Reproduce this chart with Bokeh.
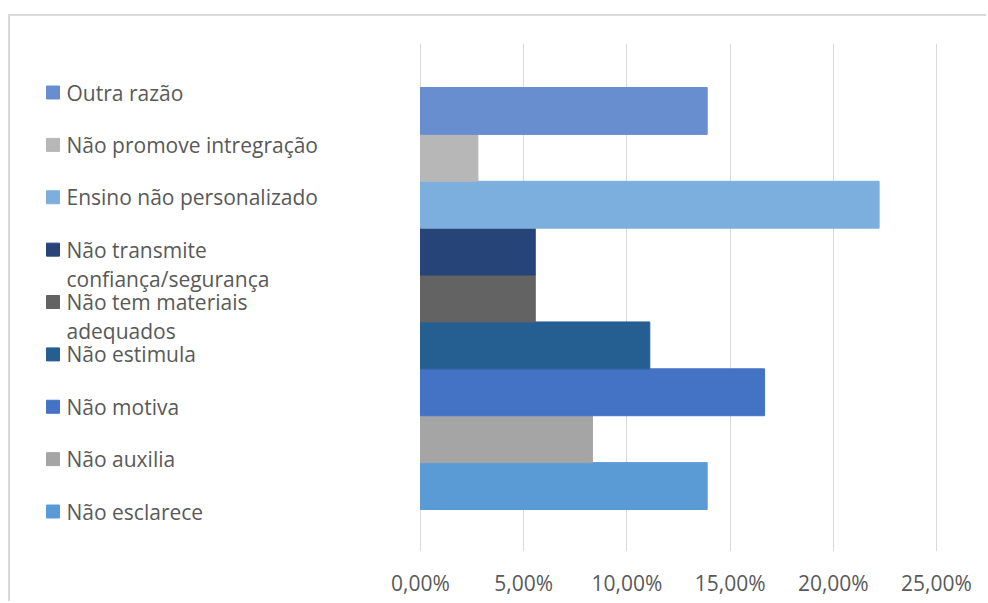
from bokeh.plotting import figure
from bokeh.models import FixedTicker, ColumnDataSource, Range1d
from bokeh.core.properties import value
from bokeh.embed import file_html
from bokeh.resources import INLINE

# ---- data (bottom to top, as drawn) ----
categories = ["Não esclarece", "Não auxilia", "Não motiva", "Não estimula",
              "Não tem materiais adequados", "Não transmite confiança/segurança",
              "Ensino não personalizado", "Não promove intregração", "Outra razão"]
legend_text = ["Não esclarece", "Não auxilia", "Não motiva", "Não estimula",
               "Não tem materiais\nadequados", "Não transmite\nconfiança/segurança",
               "Ensino não personalizado", "Não promove intregração", "Outra razão"]
percent = [13.89, 8.33, 16.67, 11.11, 5.56, 5.56, 22.22, 2.78, 13.89]
colors = ["#5B9BD5", "#A5A5A5", "#4472C4", "#255E91", "#636363",
          "#264478", "#7CAFDD", "#B7B7B7", "#698ED0"]
tick_values = [0, 5, 10, 15, 20, 25]
tick_labels = ["0,00%", "5,00%", "10,00%", "15,00%", "20,00%", "25,00%"]

# ---- layout (page pixels) ----
CANVAS_X0, CANVAS_Y0 = 10, 16
W, H = 978, 587
FRAME_TOP, FRAME_BOTTOM = 43, 551
X0_PX, X25_PX = 420, 936
BAR_TOP, BAR_BOTTOM = 87, 509
LEG_TOP, LEG_STEP, LEG_LINE = 92, 52.375, 29
FONT = "Open Sans"
n = len(categories)

pxu = (X25_PX - X0_PX) / 25.0
x_start = (CANVAS_X0 - X0_PX) / pxu
x_end = 25 + (CANVAS_X0 + W - X25_PX) / pxu
bar_px = (BAR_BOTTOM - BAR_TOP) / n
y_end = n + (BAR_TOP - FRAME_TOP) / bar_px
y_start = -(FRAME_BOTTOM - BAR_BOTTOM) / bar_px

def px_to_x(px):
    return (px - X0_PX) / pxu

def py_to_y(py):
    return y_end - (py - FRAME_TOP) / bar_px

p = figure(width=W, height=H, output_backend="svg", toolbar_location=None,
           x_range=Range1d(x_start, x_end), y_range=Range1d(y_start, y_end),
           y_axis_location=None, min_border_left=0, min_border_right=0,
           min_border_top=FRAME_TOP - CANVAS_Y0,
           min_border_bottom=CANVAS_Y0 + H - FRAME_BOTTOM)
p.styles = {"border-top": "2px solid #D9D9D9", "border-left": "2px solid #D9D9D9",
            "position": "relative", "top": "14px", "left": "8px"}
p.outline_line_color = None
p.background_fill_color = "white"
p.border_fill_color = "white"

src = ColumnDataSource(dict(cat=categories, val=percent, color=colors,
                            y=[i + 0.5 for i in range(n)]))
p.hbar(y="y", right="val", left=0, height=1.0, color="color", source=src)

# legend (top item first in screen order)
first_lines, second_lines, leg_y, leg_y2 = [], [], [], []
for i, t in enumerate(legend_text):
    k = n - 1 - i  # position from top
    py = LEG_TOP + LEG_STEP * k
    parts = t.split("\n")
    first_lines.append(parts[0])
    second_lines.append(parts[1] if len(parts) > 1 else "")
    leg_y.append(py_to_y(py))
    leg_y2.append(py_to_y(py + LEG_LINE))
lsrc = ColumnDataSource(dict(y=leg_y, y2=leg_y2, t1=first_lines, t2=second_lines,
                             color=colors))
p.rect(x=px_to_x(52.5), y="y", width=13, height=13, width_units="screen",
       height_units="screen", color="color", source=lsrc)
for col, ycol in (("t1", "y"), ("t2", "y2")):
    p.text(x=px_to_x(66), y=ycol, text=col, source=lsrc, text_font=value(FONT),
           text_font_size="21px", text_color="#595959", text_baseline="middle",
           text_align="left")

ax = p.xaxis[0]
ax.ticker = FixedTicker(ticks=tick_values)
ax.major_label_overrides = dict(zip(tick_values, tick_labels))
ax.axis_line_color = None
ax.major_tick_line_color = None
ax.minor_tick_line_color = None
ax.major_label_text_font = FONT
ax.major_label_text_font_size = "21px"
ax.major_label_text_color = "#595959"
ax.major_label_standoff = 11
p.xgrid.ticker = FixedTicker(ticks=tick_values)
p.xgrid.grid_line_color = "#D9D9D9"
p.ygrid.grid_line_color = None

open("out.html", "w").write(file_html(p, INLINE))
